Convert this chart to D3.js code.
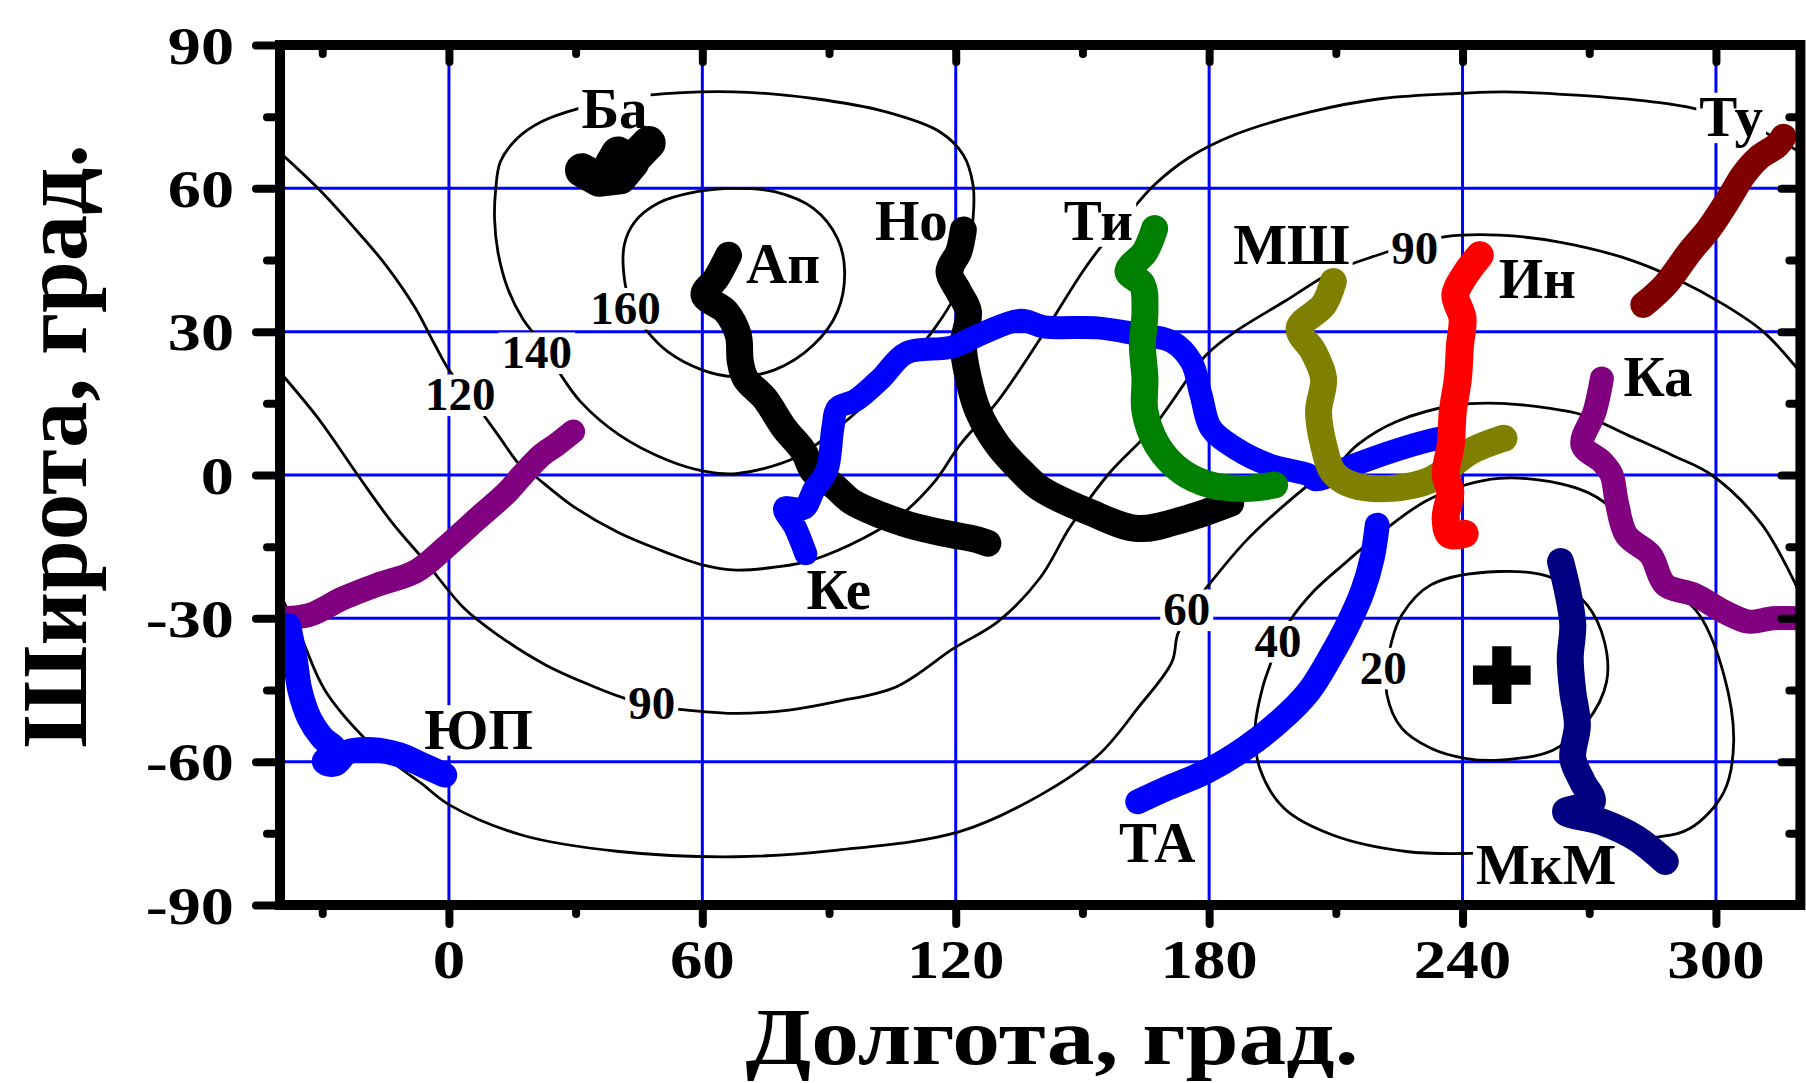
<!DOCTYPE html>
<html>
<head>
<meta charset="utf-8">
<script src="https://cdn.jsdelivr.net/npm/d3@7"></script>
<style>
  body { margin: 0; background: #fff; }
  text { font-family: "Liberation Serif", "Times New Roman", serif; font-weight: bold; fill: #000; }
</style>
</head>
<body>
<div class="chart"></div>
<script>
let svgWidth = 1806;
let svgHeight = 1083;

// axis ticks
let xMajor = [0, 60, 120, 180, 240, 300];
let xMinor = [-30, 30, 90, 150, 210, 270];
let yMajor = [-90, -60, -30, 0, 30, 60, 90];
let yMinor = [-75, -45, -15, 15, 45, 75];
let yGrid = [-60, -30, 0, 30, 60];

// contour lines [lon, lat]
let contour160 = [[67.3,60],[58.7,59.3],[49.5,56.9],[44,53],[41.5,48.1],[41.7,40.1],[43.5,34.5],[46.7,30.3],[51.8,25.8],[59.9,22],[67.3,20.6],[77.1,22],[86.3,27.2],[92,34.2],[93.7,42.6],[92,49.5],[86.3,55.8],[77.1,59.3]];
let contour140 = [[30.6,76.7],[22,74],[16.2,70.5],[12.2,65.6],[11.1,60],[10.8,53.7],[11.6,46.7],[13.9,39.1],[17.4,32.8],[21,28.5],[26,21.6],[31.2,15.3],[40.3,8.4],[51.8,3.1],[61,0.7],[68,0.3],[81.7,3.5],[92,9.8],[100,16],[108,23],[115,30.7],[119.5,37],[121.5,42.5],[123,48],[124.1,53.7],[124.1,60.7],[121.8,67],[116.1,71.9],[103.5,76],[86.3,78.8],[67.3,80.2],[47.2,79.5],[39,78.3]];
let contour120 = [[-40,67.5],[-31,60],[-23,52.3],[-15,44],[-8,35],[-3.3,27.2],[0,22],[6.5,14.6],[11.6,8.4],[16.8,2.1],[20,0],[29,-6.3],[40,-12],[52,-16.4],[60,-18.8],[68,-19.9],[78,-19.2],[86,-17.8],[98,-13.3],[107,-8.4],[115,-1.4],[121,6.3],[130,15.5],[140,28.5],[150,42.5],[155,48.5],[162,55.8],[167,60.7],[175,66.3],[186,71.2],[204,76],[221,78.8],[240,79.9],[250,80.2],[267,79.5],[285,78.1],[295,76.7],[308,73.2],[320,67.5]];
let contour90 = [[-40,21.5],[-31,11.9],[-21.6,0],[-13.6,-9.8],[-5.6,-18.1],[3.6,-27.9],[11.6,-33.5],[23,-39.8],[33.5,-44],[41.5,-46.7],[48,-48.3],[56.4,-49.2],[68,-49.9],[80.5,-49.2],[92,-47.4],[106,-44.3],[119.5,-36.3],[130,-30.7],[140,-21.5],[147,-11],[156,0],[166.6,9.8],[179.3,25.1],[186.2,30],[197.8,36.3],[209.4,42.6],[219.8,46],[228,48.3],[236,49.9],[248.7,50.2],[262.6,48.8],[278.8,45.3],[290.3,41.2],[302,35.6],[311.2,30],[320,21.5]];
let contour60 = [[-40,-25],[-35,-34],[-29.4,-45],[-19.4,-55.6],[-12.5,-60.7],[-6.6,-64.5],[0.2,-69.1],[17.4,-75.4],[40.3,-78.8],[67.9,-79.9],[92,-78.5],[120.7,-74.7],[140,-67],[153.8,-58.6],[163.1,-48.8],[171.2,-39.1],[172.5,-33.5],[175.5,-28],[179.9,-23],[188.5,-14],[197.8,-6.3],[204.7,-1.4],[208.2,0],[215.1,6.3],[224.4,11.2],[238.3,14.6],[248.7,15],[260.3,14],[268.4,12.6],[279,8.4],[290,4],[299,0],[311,-10.5],[320,-25]];
let contour40 = [[248.7,-0.7],[232.5,-4.9],[221,-11.9],[211.7,-18.8],[204.7,-24.4],[199,-30.7],[196,-36],[194.3,-40.1],[192.6,-44.7],[190.9,-53],[192,-61.4],[197.8,-69.8],[209.4,-75.4],[226.7,-78.8],[241.8,-79.2],[262,-78.3],[284.5,-76],[293.8,-74],[301.9,-66.3],[304.2,-55.8],[301.9,-41.9],[296.1,-29.3],[284.5,-19.5],[275.3,-7],[267.2,-2.8]];
let contour20 = [[248.7,-20.2],[232.5,-23],[225.6,-29.3],[223.2,-34.9],[222.2,-40.5],[222.1,-46],[225.6,-53],[232.5,-57.2],[240.6,-59.3],[248.7,-59.7],[261.4,-57.6],[269.5,-51.6],[274.1,-43.3],[273.6,-34.9],[269.5,-27.2],[261.4,-21.6]];

// tracks [lon, lat]
let trackBa = [[31.5,63.8],[35.5,61.8],[40.5,62.3],[43.5,65.5],[40,67.3],[38.5,65],[43.5,66],[47.3,69.5]];
let trackAp = [[66.2,46],[63.3,41.2],[60.4,37.7],[65.6,34.2],[68.5,29.3],[69,23.7],[70.2,20.2],[74.8,16],[79.4,9.8],[84,4.9],[86.3,0.7],[90.9,-2.1],[95.4,-5.6],[102.3,-8.4],[109.2,-10.5],[117.3,-12.2],[125.3,-13.6],[127.6,-14.3]];
let trackNo = [[121.8,51.3],[120.7,46.7],[118.4,42.6],[120.7,38.4],[123,34.2],[121.8,27.2],[123,20.2],[125.3,13.3],[129.9,6.3],[135.6,0.7],[140,-2.8],[151.5,-7.7],[163.1,-11.2],[174.7,-9.1],[185.1,-5.9]];
let trackKe = [[84.5,-16.5],[82,-11],[79.5,-7],[84,-7],[86.5,-3],[89.5,1],[90.9,9.8],[92,14],[96.4,15.7],[102.3,20.2],[108.2,25.5],[119.1,26.8],[126.5,29.7],[135.4,32.4],[140.9,31],[153.5,30.8],[161.7,29.7],[171.2,27.9],[175.8,23.7],[178.1,16.7],[180.4,9.8],[186.2,5.6],[194.3,2.1],[203.6,0],[205.3,-1],[214,2],[223.2,4.9],[232.5,7.3],[234.8,7.7]];
let trackTi = [[167.1,51.6],[164.8,46.7],[160.8,42.6],[164.2,39.8],[164.8,34.2],[164.2,27.2],[164.8,20.2],[164.8,13.3],[167.7,6.3],[173.5,0.7],[180.4,-2.1],[188.5,-2.8],[195.5,-2.1]];
let trackMSh = [[209.4,40.5],[207.1,35.6],[201.3,30.7],[204.7,25.8],[207.1,20.2],[205.9,13.3],[207.1,6.3],[209.4,0.5],[214,-2.1],[223.2,-2.8],[232.5,-1],[241.8,4.9],[249.8,7.7]];
let trackIn = [[244.1,46],[240.6,41.9],[238.3,37.7],[240,32.8],[239.4,27.2],[238.9,20.2],[237.7,13.3],[237.2,6.3],[236,0],[237.1,-3.5],[236,-9],[237,-12.5],[240.5,-12.3]];
let trackTu = [[282.8,35.6],[288,39.8],[293.8,46.7],[298.4,51.6],[303.1,57.9],[306.5,62.8],[310,66.3],[314.6,69.1],[316,70.8]];
let trackKa = [[273,20.2],[271.3,13.3],[268.4,6.3],[273,2.8],[275.3,0],[276.5,-5.6],[278.8,-12.6],[284.5,-16.7],[288,-23],[295,-25.1],[301.9,-28.6],[307.7,-30.7],[313.5,-30],[321,-30]];
let trackKaWrap = [[-41,-30],[-33.1,-29.3],[-25.1,-25.8],[-17.1,-23],[-7.9,-20.2],[-1,-15.3],[5.9,-9.8],[13.9,-3.5],[17.4,0],[22,4.2],[25.4,6.3],[29.4,9.1]];
let trackYuP = [[-38,-31.5],[-36.5,-38],[-35.3,-45],[-33,-51],[-30,-55],[-27,-57.5],[-29.5,-60],[-27,-60.5],[-24,-58],[-18,-57.5],[-12,-58.5],[-6,-60.8],[-1,-62.8]];
let trackTA = [[219.8,-10.5],[218.6,-17.4],[216.3,-24.4],[212.8,-31.4],[209.4,-37],[203.6,-45.3],[196.6,-51.6],[188.5,-57.2],[179.3,-62.1],[170,-65.6],[163.1,-68.4]];
let trackMkM = [[263.2,-18.1],[264.9,-24.4],[266.1,-31.4],[265.5,-38.4],[266.1,-45.3],[267.2,-52.3],[266.1,-59.3],[268.4,-64.2],[270.7,-68.4],[264.4,-70.5],[273,-72.6],[281.1,-76],[288,-80.9]];

// labels [text, lon, lat]
let trackLabels = [["Ба",39.2,76.8],["Ап",79.1,44.3],["Но",109.5,53.2],["Ти",153.8,53.3],["МШ",199.5,48.2],["Ин",257.7,41.2],["Ту",303.6,75],["Ка",286.3,20.6],["Ке",92.3,-24],["ЮП",7,-53.2],["ТА",167.7,-76.9],["МкМ",259.8,-81.5]];
let contourLabels = [["160",41.8,35],["140",20.8,25.7],["120",2.7,16.9],["90",48,-47.8],["90",228.7,47.5],["60",174.7,-28.1],["40",196.3,-34.7],["20",221.2,-40.3]];
let sourcePoint = [249.3, -41.9];

let x = d3.scaleLinear().domain([-40, 320]).range([280, 1800.4]);
let y = d3.scaleLinear().domain([-90, 90]).range([905, 45]);

let svg = d3.select(".chart")
    .append("svg")
    .attr("width", svgWidth)
    .attr("height", svgHeight);

svg.append("rect").attr("width", svgWidth).attr("height", svgHeight).attr("fill", "#fff");

svg.append("clipPath").attr("id", "plot")
    .append("rect")
    .attr("x", x(-40)).attr("y", y(90))
    .attr("width", x(320) - x(-40)).attr("height", y(-90) - y(90));

let plot = svg.append("g").attr("clip-path", "url(#plot)");

// grid
plot.selectAll(".vgrid").data(xMajor).enter().append("line")
    .attr("x1", d => x(d)).attr("x2", d => x(d))
    .attr("y1", y(90)).attr("y2", y(-90))
    .attr("stroke", "#0000ff").attr("stroke-width", 3);
plot.selectAll(".hgrid").data(yGrid).enter().append("line")
    .attr("y1", d => y(d)).attr("y2", d => y(d))
    .attr("x1", x(-40)).attr("x2", x(320))
    .attr("stroke", "#0000ff").attr("stroke-width", 3);

// contours
let openLine = d3.line().x(d => x(d[0])).y(d => y(d[1])).curve(d3.curveCatmullRom.alpha(0.5));
let closedLine = d3.line().x(d => x(d[0])).y(d => y(d[1])).curve(d3.curveCatmullRomClosed.alpha(0.5));
[contour120, contour90, contour60].forEach(c => {
    plot.append("path").attr("d", openLine(c))
        .attr("fill", "none").attr("stroke", "#000").attr("stroke-width", 2.8);
});
[contour160, contour140, contour40, contour20].forEach(c => {
    plot.append("path").attr("d", closedLine(c))
        .attr("fill", "none").attr("stroke", "#000").attr("stroke-width", 2.8);
});

// labels with white boxes
function addLabel(parent, d, size) {
    let g = parent.append("g");
    let t = g.append("text")
        .attr("x", x(d[1])).attr("y", y(d[2]))
        .attr("text-anchor", "middle")
        .attr("dominant-baseline", "central")
        .attr("font-size", size)
        .text(d[0]);
    let b = t.node().getBBox();
    g.insert("rect", "text")
        .attr("x", b.x - 3).attr("y", b.y + b.height * 0.12)
        .attr("width", b.width + 6).attr("height", b.height * 0.8)
        .attr("fill", "#fff");
}
let labelLayer = plot.append("g");
contourLabels.forEach(d => addLabel(labelLayer, d, 47));
trackLabels.forEach(d => addLabel(labelLayer, d, 57));

// tracks
let tracks = [
    {data: trackBa, color: "#000000", w: 34, curve: d3.curveLinear},
    {data: trackAp, color: "#000000", w: 27},
    {data: trackNo, color: "#000000", w: 27},
    {data: trackKe, color: "#0000ff", w: 23},
    {data: trackTi, color: "#008000", w: 27},
    {data: trackMSh, color: "#808000", w: 27},
    {data: trackIn, color: "#ff0000", w: 28},
    {data: trackTu, color: "#800000", w: 26},
    {data: trackKa, color: "#800080", w: 24},
    {data: trackKaWrap, color: "#800080", w: 24},
    {data: trackYuP, color: "#0000ff", w: 25},
    {data: trackTA, color: "#0000ff", w: 25},
    {data: trackMkM, color: "#000080", w: 27}
];
tracks.forEach(tr => {
    let line = d3.line().x(d => x(d[0])).y(d => y(d[1]))
        .curve(tr.curve || d3.curveCatmullRom.alpha(0.5));
    plot.append("path").attr("d", line(tr.data))
        .attr("fill", "none")
        .attr("stroke", tr.color)
        .attr("stroke-width", tr.w)
        .attr("stroke-linecap", "round")
        .attr("stroke-linejoin", "round");
});

// cross marker
plot.append("path")
    .attr("d", d3.symbol(d3.symbolCross, 1850)())
    .attr("transform", `translate(${x(sourcePoint[0])}, ${y(sourcePoint[1])})`)
    .attr("fill", "#000");

// frame
svg.append("rect")
    .attr("x", x(-40)).attr("y", y(90))
    .attr("width", x(320) - x(-40)).attr("height", y(-90) - y(90))
    .attr("fill", "none").attr("stroke", "#000").attr("stroke-width", 10);

function ticks(axis, transform) {
    svg.append("g")
        .attr("transform", transform)
        .call(axis.tickFormat(""))
        .call(g => g.select(".domain").remove())
        .call(g => g.selectAll(".tick line")
            .attr("stroke", "#000")
            .attr("stroke-width", 8)
            .attr("stroke-linecap", "round"));
}
ticks(d3.axisBottom(x).tickValues(xMajor).tickSize(19), `translate(0, ${y(-90)})`);
ticks(d3.axisBottom(x).tickValues(xMinor).tickSize(9), `translate(0, ${y(-90)})`);
ticks(d3.axisBottom(x).tickValues(xMajor).tickSize(17), `translate(0, ${y(90)})`);
ticks(d3.axisBottom(x).tickValues(xMinor).tickSize(9), `translate(0, ${y(90)})`);
ticks(d3.axisLeft(y).tickValues(yMajor.slice(1, -1)).tickSize(24), `translate(${x(-40)}, 0)`);
ticks(d3.axisLeft(y).tickValues(yMinor).tickSize(13), `translate(${x(-40)}, 0)`);
ticks(d3.axisLeft(y).tickValues(yMajor.slice(1, -1)).tickSize(19), `translate(${x(320)}, 0)`);
ticks(d3.axisLeft(y).tickValues(yMinor).tickSize(11), `translate(${x(320)}, 0)`);
ticks(d3.axisLeft(y).tickValues([-90, 90]).tickSize(24), `translate(${x(-40)}, 0)`);

// tick labels
svg.selectAll(".xlab").data(xMajor).enter().append("text")
    .attr("transform", d => `translate(${x(d)}, 978) scale(1.18, 1)`)
    .attr("text-anchor", "middle")
    .attr("font-size", 55)
    .text(d => d);
svg.selectAll(".ylab").data(yMajor).enter().append("text")
    .attr("transform", d => `translate(234, ${y(d)}) scale(1.25, 1)`)
    .attr("text-anchor", "end")
    .attr("dy", "0.35em")
    .attr("font-size", 53)
    .text(d => d);

// axis titles
svg.append("text")
    .attr("x", 1052).attr("y", 1064)
    .attr("text-anchor", "middle")
    .attr("font-size", 80)
    .attr("textLength", 613)
    .attr("lengthAdjust", "spacingAndGlyphs")
    .text("Долгота, град.");
svg.append("text")
    .attr("transform", "translate(86, 446) rotate(-90)")
    .attr("text-anchor", "middle")
    .attr("font-size", 93)
    .text("Широта, град.");
</script>
</body>
</html>
